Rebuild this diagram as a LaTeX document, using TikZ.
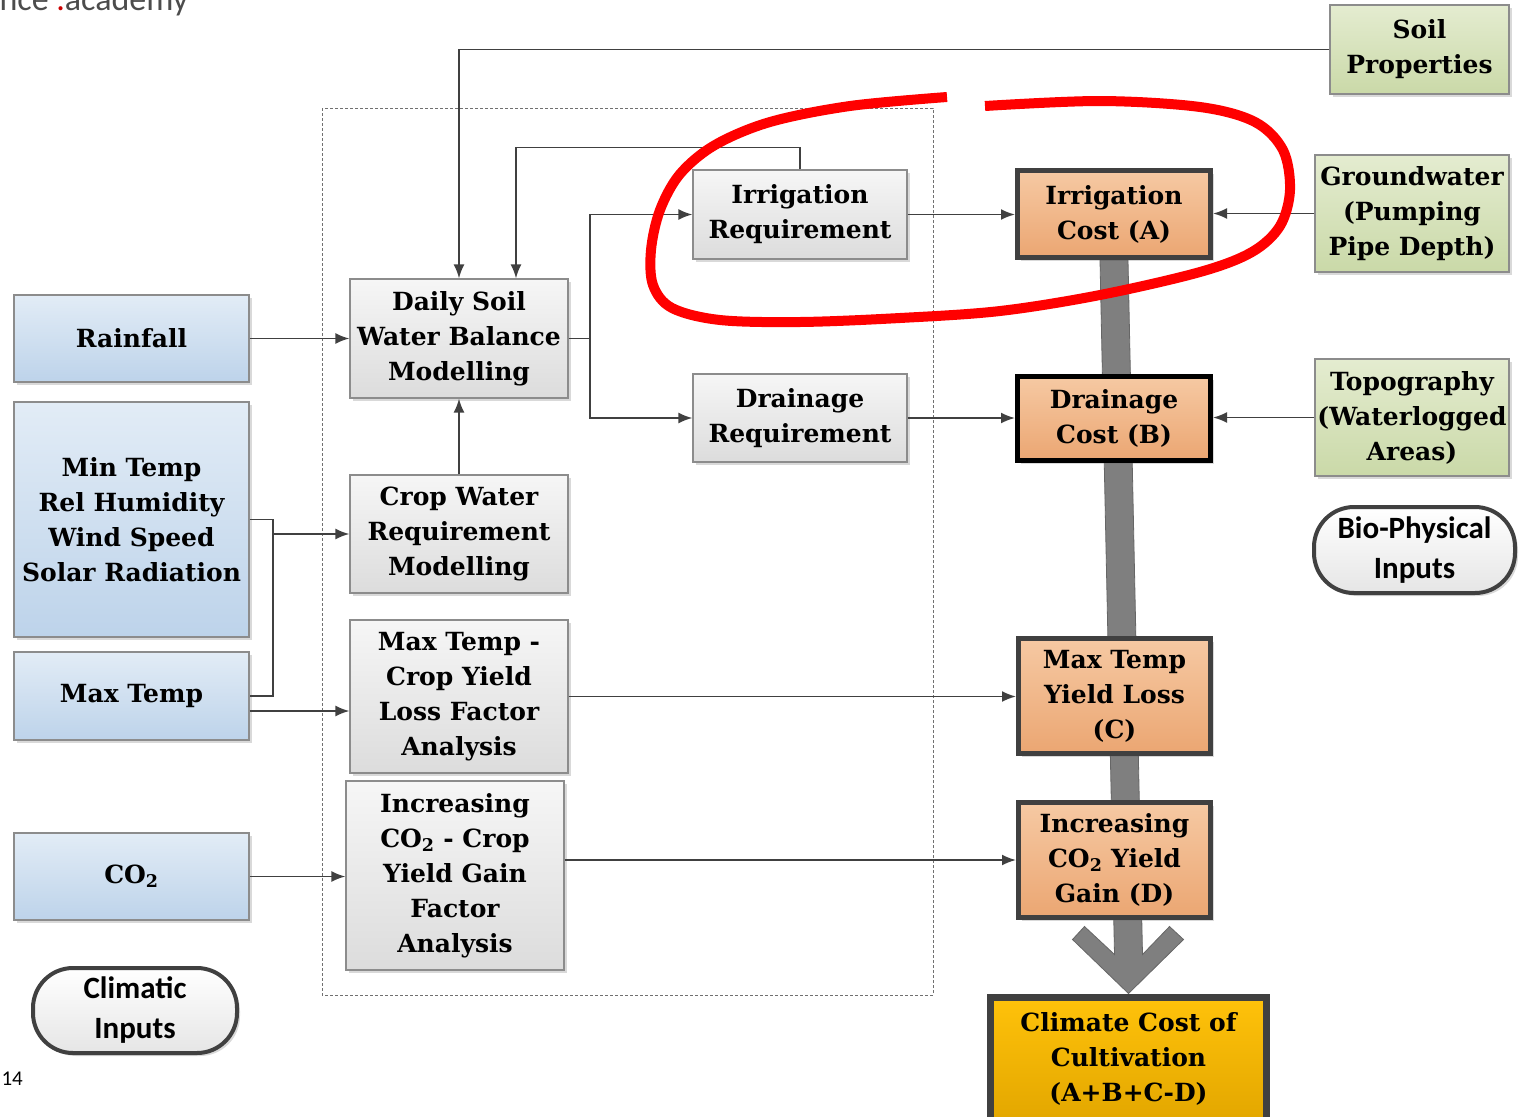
\documentclass[tikz,border=0pt]{standalone}
\usepackage{fontspec}
\setmainfont{DejaVu Serif}
\newfontfamily\calfont{Carlito}
\usetikzlibrary{arrows.meta,calc,shadows,backgrounds}

\definecolor{lineg}{HTML}{404040}
\definecolor{bordg}{HTML}{8C8C8C}
\definecolor{blueT}{HTML}{E2ECF6}
\definecolor{blueB}{HTML}{BDD3EA}
\definecolor{greyT}{HTML}{F6F6F6}
\definecolor{greyB}{HTML}{DCDCDC}
\definecolor{greenT}{HTML}{E4ECD0}
\definecolor{greenB}{HTML}{CAD9A8}
\definecolor{oranT}{HTML}{F6C9A3}
\definecolor{oranB}{HTML}{EBA672}
\definecolor{goldT}{HTML}{FFC20A}
\definecolor{goldB}{HTML}{E3A700}
\definecolor{barg}{HTML}{7F7F7F}

\begin{document}
\begin{tikzpicture}[x=1pt,y=-1pt,
  txt/.style={font=\fontsize{25}{35}\selectfont\bfseries, align=center, text=black},
  shade/.style={drop shadow={shadow xshift=3pt,shadow yshift=-3pt,opacity=0.25,fill=black!60}},
  inbox/.style={txt, shade, draw=bordg, line width=1.2pt, top color=blueT, bottom color=blueB, inner sep=2pt},
  procbox/.style={txt, shade, draw=bordg, line width=1.2pt, top color=greyT, bottom color=greyB, inner sep=2pt},
  biobox/.style={txt, shade, draw=bordg, line width=1.2pt, top color=greenT, bottom color=greenB, inner sep=2pt},
  costbox/.style={txt, shade, draw=lineg, line width=5pt, top color=oranT, bottom color=oranB, inner sep=2pt},
  totalbox/.style={txt, draw=lineg, line width=7pt, top color=goldT, bottom color=goldB, inner sep=2pt},
  pill/.style={font=\calfont\fontsize{31}{40}\selectfont\bfseries, align=center, shade,
    draw=lineg, line width=4pt, rounded corners=40pt, top color=white, bottom color=black!10},
  conn/.style={draw=lineg, line width=1.8pt, -{Latex[length=14pt,width=11pt]}},
  link/.style={draw=lineg, line width=1.8pt},
]
\useasboundingbox (0,0) rectangle (1519,1117);

% header fragment and page number
\node[anchor=base west, font=\calfont\fontsize{34}{34}\selectfont, text=black!70] (wm) at (-4,10) {nce {\color{red!80!black}.}academy};
\node[anchor=base west, font=\calfont\fontsize{21}{21}\selectfont] (pg) at (-2,1085) {14};

% dashed frame around the modelling steps
\draw[bordg!80!black, line width=1pt, dash pattern=on 3pt off 2pt] (322,108) rectangle (933,995);

% climatic inputs
\node[inbox, minimum width=235pt, minimum height=87pt] (rain) at (131.5,338.5) {Rainfall};
\node[inbox, minimum width=235pt, minimum height=235pt] (minT) at (131.5,519.5) {Min Temp\\Rel Humidity\\Wind Speed\\Solar Radiation};
\node[inbox, minimum width=235pt, minimum height=88pt] (maxT) at (131.5,696) {Max Temp};
\node[inbox, minimum width=235pt, minimum height=87pt] (co2) at (131.5,876.5) {CO\textsubscript{2}};
\node[pill, minimum width=204pt, minimum height=85pt] (clim) at (135,1010.5) {Climatic\\Inputs};

% modelling steps
\node[procbox, minimum width=218pt, minimum height=119pt] (dsw) at (459,338.5) {Daily Soil\\Water Balance\\Modelling};
\node[procbox, minimum width=218pt, minimum height=118pt] (cwr) at (459,534) {Crop Water\\Requirement\\Modelling};
\node[procbox, minimum width=218pt, minimum height=153pt] (mtcy) at (459,696.5) {Max Temp -\\Crop Yield\\Loss Factor\\Analysis};
\node[procbox, minimum width=218pt, minimum height=189pt] (icf) at (455,875.5) {Increasing\\CO\textsubscript{2} - Crop\\Yield Gain\\Factor\\Analysis};
\node[procbox, minimum width=214pt, minimum height=89pt] (irr) at (800,214.5) {Irrigation\\Requirement};
\node[procbox, minimum width=214pt, minimum height=88pt] (drq) at (800,418) {Drainage\\Requirement};

% bio-physical inputs
\node[biobox, minimum width=179pt, minimum height=89pt] (soil) at (1419.5,49.5) {Soil\\Properties};
\node[biobox, minimum width=194pt, minimum height=117pt] (gw) at (1412,213.5) {Groundwater\\(Pumping\\Pipe Depth)};
\node[biobox, minimum width=194pt, minimum height=117pt] (topo) at (1412,417.5) {Topography\\(Waterlogged\\Areas)};
\node[pill, minimum width=201pt, minimum height=86pt] (bio) at (1414.5,550) {Bio-Physical\\Inputs};

% cost components
\node[costbox, minimum width=193pt, minimum height=87pt] (ica) at (1114,214) {Irrigation\\Cost (A)};
\node[costbox, draw=black, minimum width=193pt, minimum height=84pt] (dca) at (1114,418.5) {Drainage\\Cost (B)};
\node[costbox, minimum width=192pt, minimum height=115pt] (mtyl) at (1114.5,696) {Max Temp\\Yield Loss\\(C)};
\node[costbox, minimum width=192pt, minimum height=115pt] (icg) at (1114.5,860) {Increasing\\CO\textsubscript{2} Yield\\Gain (D)};
\node[totalbox, minimum width=276pt, minimum height=123pt] (ccc) at (1128.5,1058.5) {Climate Cost of\\Cultivation\\(A+B+C-D)};

% summing arrow behind the cost column
\begin{scope}[on background layer]
  \coordinate (ta) at (ica.south);
  \coordinate (tb) at (ccc.north);
  \filldraw[fill=barg, draw=black!60, line width=0.8pt, line join=miter]
    ($(ta)+(-14,0)$) -- ($(tb)+(-14,-39)$) -- ($(tb)+(-44,-67)$) -- ($(tb)+(-56,-54)$)
    -- (tb) -- ($(tb)+(55,-54)$) -- ($(tb)+(41,-67)$) -- ($(tb)+(14,-39)$)
    -- ($(ta)+(14,0)$) -- cycle;
\end{scope}

% connectors
\draw[conn] (soil.west) -| (dsw.north);
\draw[conn] (irr.north) -- ++(0,-22) -| ([xshift=57pt]dsw.north);
\draw[link] (dsw.east) -- ++(21,0) coordinate (split);
\draw[conn] (split) |- (irr.west);
\draw[conn] (split) |- (drq.west);
\draw[conn] (rain.east) -- (dsw.west);
\draw[conn] (cwr.north) -- (dsw.south);
\draw[link] (minT.east) -- ++(23,0) coordinate (br) |- (maxT.east);
\draw[conn] (cwr.west -| br) -- (cwr.west);
\draw[conn] ($(maxT.east)+(0,15)$) coordinate (m1) -- (m1 -| mtcy.west);
\draw[conn] (mtcy.east) -- (mtcy.east -| mtyl.west);
\draw[conn] (co2.east) -- (co2.east -| icf.west);
\draw[conn] (icf.east |- icg.west) -- (icg.west);
\draw[conn] (irr.east) -- (irr.east -| ica.west);
\draw[conn] (drq.east) -- (drq.east -| dca.west);
\draw[conn] (gw.west) -- (gw.west -| ica.east);
\draw[conn] (topo.west) -- (topo.west -| dca.east);

% hand-drawn highlight loop
\draw[red, line width=10pt, line cap=butt, line join=round]
  plot[smooth, tension=0.55] coordinates {
    (985,106) (1100,101) (1200,107) (1255,122) (1283,150) (1290,190) (1280,226)
    (1252,252) (1200,272) (1100,295) (1000,311) (900,318) (800,322) (720,320)
    (672,308) (653,285) (651,250) (660,210) (680,174) (715,145) (770,122)
    (850,106) (947,97)};
\end{tikzpicture}
\end{document}
